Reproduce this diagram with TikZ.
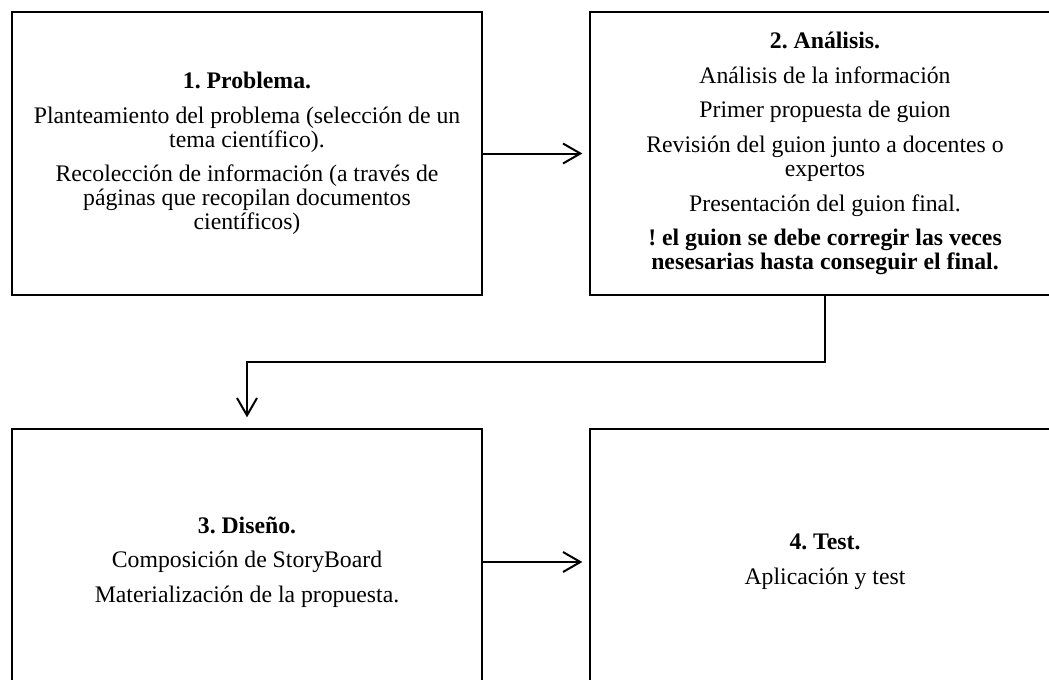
\documentclass[tikz,border=0pt]{standalone}
\usepackage{fontspec}
\setmainfont{Liberation Serif}
\usetikzlibrary{arrows.meta}
\frenchspacing
\begin{document}
\begin{tikzpicture}[x=0.75pt,y=-0.75pt,
  stage/.style={draw, line width=1.5pt, minimum width=352.5pt, align=center,
    inner sep=0pt, font=\fontsize{17.8}{18}\selectfont},
  toprow/.style={stage, minimum height=212.25pt},
  botrow/.style={stage, minimum height=199.5pt},
  link/.style={line width=1.5pt, -{Straight Barb[length=13pt,width=15pt,line width=1.5pt]}}]
\path[use as bounding box] (0,0) rectangle (1049,679);
\clip (0,0) rectangle (1049,679);

\node[toprow] (b1) at (247,153.5) {%
  \textbf{1. Problema.}\\[8pt]
  Planteamiento del problema (selección de un\\ tema científico).\\[8pt]
  Recolección de información (a través de\\ páginas que recopilan documentos\\ científicos)};

\node[toprow] (b2) at (825,153.5) {%
  \textbf{2. Análisis.}\\[8pt]
  Análisis de la información\\[8pt]
  Primer propuesta de guion\\[8pt]
  Revisión del guion junto a docentes o\\ expertos\\[8pt]
  Presentación del guion final.\\[8pt]
  \textbf{! el guion se debe corregir las veces}\\
  \textbf{nesesarias hasta conseguir el final.}};

\node[botrow] (b3) at (247,562) {%
  \textbf{3. Diseño.}\\[8pt]
  Composición de StoryBoard\\[8pt]
  Materialización de la propuesta.};

\node[botrow] (b4) at (825,562) {%
  \textbf{4. Test.}\\[8pt]
  Aplicación y test};

\draw[link, shorten >=5pt] (b1.east) -- (b2.west);
\draw[link, shorten >=8pt] (b2.south) -- ++(0,66) -| (b3.north);
\draw[link, shorten >=5pt] (b3.east) -- (b4.west);
\end{tikzpicture}
\end{document}
